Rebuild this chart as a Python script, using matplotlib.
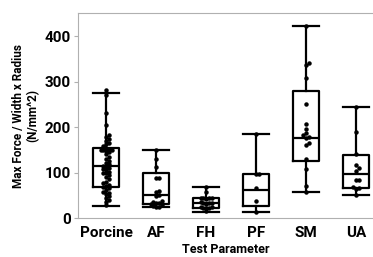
import numpy as np
from matplotlib import pyplot as plt

groups = ['Porcine', 'AF', 'FH', 'PF', 'SM', 'UA']

# box stats
whislo = [27, 24, 14, 14, 58, 51]
q1 = [69, 31, 22, 26, 125, 67]
med = [115, 51, 32, 61, 176, 97]
q3 = [154, 100, 43, 97, 279, 139]
whishi = [275, 150, 69, 184, 423, 244]

# individual points
porcine = [282, 271, 230, 205, 182, 178, 174, 170, 166, 162, 158, 155, 152, 150,
           150, 149, 148, 145, 140, 135, 130, 125, 122, 118, 115, 112, 110, 108,
           105, 102, 100, 98, 95, 90, 85, 80, 76, 73, 70, 68, 66, 62, 58, 55, 52,
           48, 45, 40, 35, 28]
af = [150, 130, 113, 87, 87, 60, 58, 50, 48, 38, 36, 34, 32, 30, 28, 26, 25, 24]
fh = [69, 58, 44, 44, 43, 43, 42, 35, 34, 33, 32, 31, 25, 24, 23, 22, 21, 15]
pf = [184, 97, 96, 66, 38, 14]
sm = [423, 340, 336, 308, 250, 207, 196, 188, 182, 178, 176, 165, 160, 130, 108, 70, 58]
ua = [244, 190, 140, 117, 110, 104, 84, 83, 68, 66, 64, 51]
points = [porcine, af, fh, pf, sm, ua]


def swarm(vals, dy=6.0, dx=0.055):
    # simple beeswarm: shift points sideways when they overlap vertically
    vals = sorted(vals)
    placed = []
    offs = []
    for v in vals:
        k = 0
        while True:
            o = ((k + 1) // 2) * dx * (1 if k % 2 else -1) if k else 0.0
            if all(abs(o - po) > dx * 0.9 or abs(v - pv) > dy for pv, po in placed):
                break
            k += 1
        placed.append((v, o))
        offs.append(o)
    return np.array(vals), np.array(offs)


plt.rcParams['font.family'] = ['Roboto', 'DejaVu Sans']
fig = plt.figure(figsize=(3.73, 2.57), dpi=100)
ax = fig.add_axes([78 / 373, 39 / 257, 295 / 373, 205 / 257])

stats = []
for i, g in enumerate(groups):
    stats.append(dict(label=g, whislo=whislo[i], q1=q1[i], med=med[i],
                      q3=q3[i], whishi=whishi[i], fliers=[]))

lp = dict(color='k', linewidth=1.6)
ax.bxp(stats, positions=range(len(groups)), widths=0.52, showfliers=False,
       boxprops=lp, whiskerprops=lp, capprops=lp, medianprops=lp,
       capwidths=0.52)

for i, p in enumerate(points):
    y, o = swarm(p)
    ax.plot(i + o, y, 'o', color='k', markersize=2.2, zorder=3)

ax.set_xlim(-0.56, 5.34)
ax.set_ylim(0, 451)
ax.set_yticks([0, 100, 200, 300, 400])
ax.set_xticks(range(len(groups)))
ax.set_xticklabels(groups, fontsize=11, fontweight='bold')
for t in ax.get_yticklabels():
    t.set_fontsize(11)
    t.set_fontweight('bold')
ax.tick_params(axis='x', length=0, pad=6)
ax.tick_params(axis='y', length=3, color='#b0b0b0', pad=2)
for s in ['left', 'top', 'bottom']:
    ax.spines[s].set_color('#b0b0b0')
ax.spines['right'].set_visible(False)

ax.set_ylabel('Max Force / Width x Radius\n(N/mm^2)', fontsize=8.5,
              fontweight='bold', linespacing=1.1, labelpad=4)
ax.set_xlabel('Test Parameter', fontsize=9, fontweight='bold', labelpad=2)

plt.savefig('out.png', dpi=100)
